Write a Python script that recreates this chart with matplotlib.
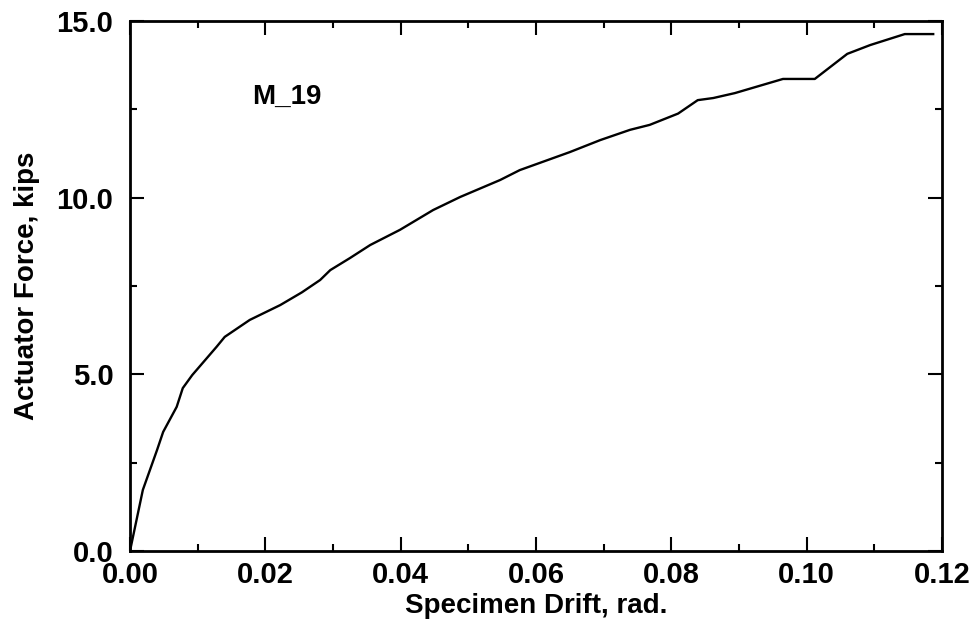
import matplotlib
matplotlib.use('Agg')
import matplotlib.pyplot as plt
from matplotlib.ticker import MultipleLocator, FormatStrFormatter

# load-drift curve
drift = [0.0, 0.0019, 0.0040, 0.0049, 0.0069, 0.0078, 0.0092, 0.0128, 0.0140,
         0.0177, 0.0222, 0.0254, 0.0281, 0.0296, 0.0325, 0.0355, 0.0399, 0.0448,
         0.0488, 0.0547, 0.0576, 0.0650, 0.0695, 0.0739, 0.0768, 0.0810, 0.0839,
         0.0862, 0.0894, 0.0965, 0.1012, 0.1060, 0.1094, 0.1145, 0.1187]
force = [0.0, 1.73, 2.86, 3.37, 4.08, 4.61, 4.98, 5.78, 6.06,
         6.54, 6.96, 7.32, 7.67, 7.95, 8.29, 8.66, 9.09, 9.65,
         10.02, 10.50, 10.78, 11.29, 11.63, 11.92, 12.06, 12.38, 12.76,
         12.82, 12.96, 13.36, 13.36, 14.07, 14.32, 14.63, 14.63]

plt.rcParams['font.family'] = ['Liberation Sans', 'DejaVu Sans']
plt.rcParams['font.weight'] = 'bold'

fig = plt.figure(figsize=(9.74, 6.28), dpi=100)
ax = fig.add_axes([130/974, 1-551/628, 812/974, 530/628])

ax.plot(drift, force, color='black', linewidth=1.7)

ax.set_xlim(0, 0.12)
ax.set_ylim(0, 15)
ax.xaxis.set_major_locator(MultipleLocator(0.02))
ax.xaxis.set_minor_locator(MultipleLocator(0.01))
ax.yaxis.set_major_locator(MultipleLocator(5))
ax.yaxis.set_minor_locator(MultipleLocator(2.5))
ax.xaxis.set_major_formatter(FormatStrFormatter('%.2f'))
ax.yaxis.set_major_formatter(FormatStrFormatter('%.1f'))
ax.tick_params(which='both', direction='in', top=True, right=True, width=1.5)
ax.tick_params(which='major', length=10)
ax.tick_params(which='minor', length=5)
ax.tick_params(axis='x', which='major', labelsize=21, pad=7)
ax.tick_params(axis='y', which='major', labelsize=21, pad=12)
for s in ax.spines.values():
    s.set_linewidth(2)

ax.set_xlabel('Specimen Drift, rad.', fontsize=20, fontweight='bold', labelpad=3)
ax.set_ylabel('Actuator Force, kips', fontsize=20, fontweight='bold', labelpad=12)
ax.text(0.018, 12.85, 'M_19', fontsize=20, fontweight='bold', va='center')

plt.savefig('out.png', dpi=100)
